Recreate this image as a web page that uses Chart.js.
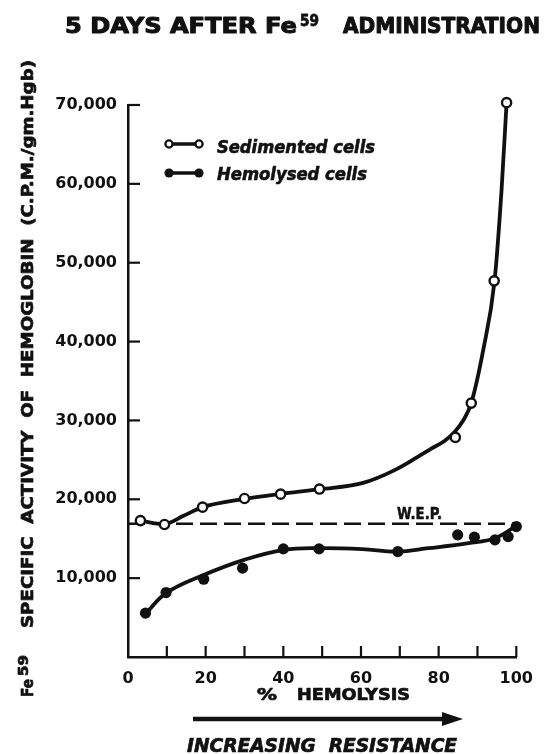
<!DOCTYPE html>
<html>
<head>
<meta charset="utf-8">
<script src="https://cdn.jsdelivr.net/npm/chart.js@4.4.1/dist/chart.umd.min.js"></script>
<style>
  html, body { margin: 0; padding: 0; background: #fff; }
  #wrap { width: 545px; height: 754px; }
</style>
</head>
<body>
<div id="wrap"><canvas id="c" width="545" height="754"></canvas></div>
<script>
// ---- data ----
const sedX = [3.2, 9.4, 19.2, 30.0, 39.3, 49.3, 84.3, 88.4, 94.3, 97.5];
const sedY = [17300, 16800, 19000, 20100, 20650, 21300, 27850, 32200, 47700, 70300];

const hemX = [4.5, 9.8, 19.5, 29.5, 40.0, 49.2, 69.5, 84.9, 89.2, 94.5, 97.9, 100.0];
const hemY = [5560, 8170, 9870, 11270, 13710, 13710, 13370, 15490, 15200, 14850, 15270, 16540];

// hand-drawn smooth curves
const sedCurveX = [3.2, 9.2, 14.3, 19.2, 29.9, 39.3, 49.6, 60.3, 68.8, 78.0, 81.5, 84.1, 86.4, 88.4, 91.5, 94.4, 96.2, 97.5];
const sedCurveY = [17300, 16850, 17900, 19000, 20050, 20680, 21280, 22040, 23730, 26400, 27390, 28530, 30050, 32200, 38970, 47700, 59220, 70300];

const hemCurveX = [4.7, 9.8, 19.6, 29.9, 40.2, 49.6, 60.3, 69.3, 77.4, 87.7, 94.5, 100.0];
const hemCurveY = [5560, 8100, 10420, 12320, 13590, 13800, 13680, 13370, 13800, 14440, 15070, 16630];

const wepX = [0, 100];
const wepY = [16900, 16900];

const xTickValues = [0, 10, 20, 30, 40, 50, 60, 70, 80, 90, 100];
const xTickLabels = ['0', '', '20', '', '40', '', '60', '', '80', '', '100'];
const yTickValues = [0, 10000, 20000, 30000, 40000, 50000, 60000, 70000];

const seriesNames = ['Sedimented cells', 'Hemolysed cells'];

// ---- helpers ----
const INK = '#111';
const zip = (xs, ys) => xs.map((x, i) => ({ x: x, y: ys[i] }));

function fitText(ctx, text, left, baseline, width, font, heavy) {
  ctx.save();
  ctx.font = font;
  ctx.textAlign = 'left';
  ctx.textBaseline = 'alphabetic';
  const m = ctx.measureText(text).width;
  ctx.translate(left, baseline);
  ctx.scale(width / m, 1);
  ctx.fillStyle = INK;
  ctx.fillText(text, 0, 0);
  if (heavy) {
    ctx.strokeStyle = INK;
    ctx.lineWidth = heavy;
    ctx.lineJoin = 'round';
    ctx.strokeText(text, 0, 0);
  }
  ctx.restore();
}

const decor = {
  id: 'decor',
  afterDraw(chart) {
    const ctx = chart.ctx;
    const xs = chart.scales.x, ys = chart.scales.y;
    const ca = chart.chartArea;
    ctx.save();
    ctx.strokeStyle = INK;
    ctx.fillStyle = INK;
    ctx.lineCap = 'butt';

    // inward tick marks
    ctx.lineWidth = 2.2;
    xs.ticks.forEach(t => {
      if (t.value === 0) return;
      const px = xs.getPixelForValue(t.value);
      ctx.beginPath(); ctx.moveTo(px, ca.bottom); ctx.lineTo(px, ca.bottom - 11); ctx.stroke();
    });
    ys.ticks.forEach(t => {
      if (t.value === 0) return;
      const py = ys.getPixelForValue(t.value);
      ctx.beginPath(); ctx.moveTo(ca.left, py); ctx.lineTo(ca.left + 12, py); ctx.stroke();
    });

    // main title
    fitText(ctx, '5 DAYS AFTER Fe', 65, 33, 232, 'bold 21px "DejaVu Sans"', 1);
    fitText(ctx, '59', 300, 26, 19, 'bold 16px "DejaVu Sans"', 0.8);
    fitText(ctx, 'ADMINISTRATION', 343, 33, 197, 'bold 21px "DejaVu Sans"', 1);

    // y-axis title (rotated)
    ctx.save();
    ctx.translate(33, 697);
    ctx.rotate(-Math.PI / 2);
    fitText(ctx, 'Fe', 0, 0, 18, 'bold 16px "DejaVu Sans"', 0.7);
    fitText(ctx, '59', 21, -5, 21, 'bold 14px "DejaVu Sans"', 0.7);
    fitText(ctx, 'SPECIFIC  ACTIVITY  OF  HEMOGLOBIN  (C.P.M./gm.Hgb)', 69, 0, 568, 'bold 16px "DejaVu Sans"', 0.7);
    ctx.restore();

    // x-axis title
    fitText(ctx, '%', 257, 700, 20, 'bold 16px "DejaVu Sans"', 0.7);
    fitText(ctx, 'HEMOLYSIS', 297, 700, 113, 'bold 16px "DejaVu Sans"', 0.7);

    // arrow
    ctx.lineWidth = 4.5;
    ctx.beginPath(); ctx.moveTo(193, 719); ctx.lineTo(446, 719); ctx.stroke();
    ctx.beginPath(); ctx.moveTo(442, 712); ctx.lineTo(463, 719); ctx.lineTo(442, 726); ctx.closePath(); ctx.fill();

    fitText(ctx, 'INCREASING  RESISTANCE', 187, 752, 270, 'italic bold 19px "DejaVu Sans"', 0.7);

    // W.E.P. label
    fitText(ctx, 'W.E.P.', 397, 519, 45, 'bold 15px "DejaVu Sans"', 0.5);

    // legend
    const legendRows = [
      { y: 144, base: 153, w: 158, open: true, name: seriesNames[0] },
      { y: 173, base: 180, w: 150, open: false, name: seriesNames[1] }
    ];
    legendRows.forEach(r => {
      ctx.strokeStyle = INK;
      ctx.lineWidth = 3.5;
      ctx.beginPath(); ctx.moveTo(169, r.y); ctx.lineTo(199, r.y); ctx.stroke();
      [169, 199].forEach(cx => {
        ctx.beginPath();
        if (r.open) {
          ctx.arc(cx, r.y, 3.6, 0, Math.PI * 2);
          ctx.fillStyle = '#fff'; ctx.fill();
          ctx.lineWidth = 2.3; ctx.stroke();
        } else {
          ctx.arc(cx, r.y, 4.6, 0, Math.PI * 2);
          ctx.fillStyle = INK; ctx.fill();
        }
      });
      ctx.fillStyle = INK;
      fitText(ctx, r.name, 217, r.base, r.w, 'italic bold 17px "DejaVu Sans"', 0.6);
    });
    ctx.restore();
  }
};

new Chart(document.getElementById('c'), {
  type: 'scatter',
  data: {
    datasets: [
      { label: seriesNames[0], data: zip(sedX, sedY), showLine: false, order: 0, clip: false,
        pointRadius: 4.6, pointBorderWidth: 2.4, pointBackgroundColor: '#fff', pointBorderColor: INK },
      { label: seriesNames[1], data: zip(hemX, hemY), showLine: false, order: 0, clip: false,
        pointRadius: 5.6, pointBorderWidth: 0, pointBackgroundColor: INK, pointBorderColor: INK },
      { label: 'sed curve', data: zip(sedCurveX, sedCurveY), showLine: true, order: 1, clip: false,
        pointRadius: 0, borderColor: INK, borderWidth: 3.8, cubicInterpolationMode: 'monotone' },
      { label: 'hem curve', data: zip(hemCurveX, hemCurveY), showLine: true, order: 1, clip: false,
        pointRadius: 0, borderColor: INK, borderWidth: 3.8, tension: 0.4 },
      { label: 'W.E.P.', data: zip(wepX, wepY), showLine: true, order: 2, clip: false,
        pointRadius: 0, borderColor: INK, borderWidth: 2.4, borderDash: [17, 7] }
    ]
  },
  options: {
    responsive: false,
    animation: false,
    events: [],
    layout: { padding: { left: 0, right: 27, top: 105, bottom: 0 } },
    scales: {
      x: {
        type: 'linear', min: 0, max: 100,
        afterFit(s) { s.height = 97; },
        afterBuildTicks(s) { s.ticks = xTickValues.map(v => ({ value: v })); },
        ticks: {
          autoSkip: false, maxRotation: 0, padding: 12, color: INK,
          font: { family: '"DejaVu Sans"', weight: 'bold', size: 16 },
          callback(v) { const i = xTickValues.indexOf(v); return i >= 0 ? xTickLabels[i] : ''; }
        },
        grid: { display: true, drawOnChartArea: false, drawTicks: false },
        border: { display: true, color: INK, width: 2.5 }
      },
      y: {
        type: 'linear', min: 0, max: 70000,
        afterFit(s) { s.width = 128; },
        afterBuildTicks(s) { s.ticks = yTickValues.map(v => ({ value: v })); },
        ticks: {
          autoSkip: false, padding: 11, color: INK,
          font: { family: '"DejaVu Sans"', weight: 'bold', size: 16 },
          callback(v) { return v === 0 ? '' : v.toLocaleString('en-US'); }
        },
        grid: { display: true, drawOnChartArea: false, drawTicks: false },
        border: { display: true, color: INK, width: 2.5 }
      }
    },
    plugins: { legend: { display: false }, tooltip: { enabled: false }, title: { display: false } }
  },
  plugins: [decor]
});
</script>
</body>
</html>
